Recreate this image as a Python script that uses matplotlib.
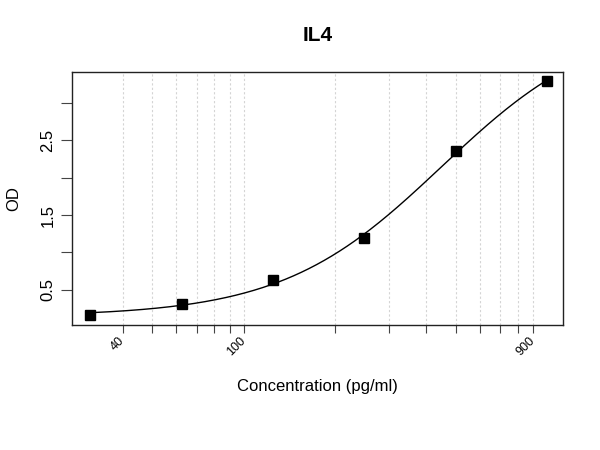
import numpy as np
import matplotlib
matplotlib.use("Agg")
import matplotlib.pyplot as plt
from matplotlib.ticker import FixedLocator, NullLocator

plt.rcParams['font.family'] = ['Liberation Sans', 'DejaVu Sans']

# Data
conc = [31.25, 62.5, 125, 250, 500, 1000]
od = [0.16, 0.31, 0.63, 1.19, 2.36, 3.30]
title = "IL4"
xlabel = "Concentration (pg/ml)"
ylabel = "OD"
grid_x = [40, 50, 60, 70, 80, 90, 100, 200, 300, 400, 500, 600, 700, 800, 900]
xtick_labels = {40: "40", 100: "100", 900: "900"}
y_ticks = [0.5, 1.0, 1.5, 2.0, 2.5, 3.0]
ytick_labels = {0.5: "0.5", 1.5: "1.5", 2.5: "2.5"}

x = np.array(conc, float)
y = np.array(od, float)


# 4-parameter logistic fit (Levenberg-Marquardt, numpy only)
def f4(p, xx):
    a, b, lc, d = p
    return d + (a - d) / (1.0 + (xx / np.exp(lc)) ** b)


def fit4pl(xx, yy):
    p = np.array([0.1, 1.5, np.log(500.0), 4.0])
    lam = 1e-2
    def sse(pp):
        return np.sum((yy - f4(pp, xx)) ** 2)
    cur = sse(p)
    for _ in range(500):
        J = np.zeros((len(xx), 4))
        for k in range(4):
            h = 1e-6 * max(1.0, abs(p[k]))
            dp = p.copy(); dp[k] += h
            J[:, k] = (f4(dp, xx) - f4(p, xx)) / h
        r = yy - f4(p, xx)
        A = J.T @ J
        g = J.T @ r
        step = np.linalg.solve(A + lam * np.diag(np.diag(A) + 1e-12), g)
        pn = p + step
        new = sse(pn)
        if np.isfinite(new) and new < cur:
            p, cur = pn, new
            lam *= 0.3
        else:
            lam *= 5
    return p


params = fit4pl(x, y)
xs = np.logspace(np.log10(x.min()), np.log10(x.max()), 300)
ys = f4(params, xs)

fig = plt.figure(figsize=(6, 4.5), dpi=100)
ax = fig.add_axes([0.12, 0.278, 0.818, 0.5627])

ax.set_xscale('log')
ax.set_xlim(27.2, 1125)
ax.set_ylim(0.03, 3.42)

for gx in grid_x:
    ax.axvline(gx, color='#d4d4d4', lw=0.8, ls=(0, (2, 2)), zorder=0)

ax.plot(xs, ys, color='black', lw=1.0, zorder=2)
ax.plot(x, y, 's', color='black', markersize=7.5, zorder=3)

ax.xaxis.set_major_locator(FixedLocator(grid_x))
ax.xaxis.set_minor_locator(NullLocator())
ax.set_xticklabels([xtick_labels.get(v, "") for v in grid_x],
                   rotation=45, ha='right', va='center',
                   rotation_mode='anchor', fontsize=9)
ax.tick_params(axis='x', length=6, color='#444444', pad=4)

ax.yaxis.set_major_locator(FixedLocator(y_ticks))
ax.set_yticklabels([ytick_labels.get(v, "") for v in y_ticks],
                   rotation=90, va='center', fontsize=12)
ax.tick_params(axis='y', length=8, color='#444444', pad=4)

for s in ax.spines.values():
    s.set_color('#222222')
    s.set_linewidth(1.0)

ax.set_title(title, fontsize=15, fontweight='bold', pad=22)
ax.set_xlabel(xlabel, fontsize=12, labelpad=15)
ax.set_ylabel(ylabel, fontsize=12, labelpad=14)

fig.savefig('out.png', dpi=100)
